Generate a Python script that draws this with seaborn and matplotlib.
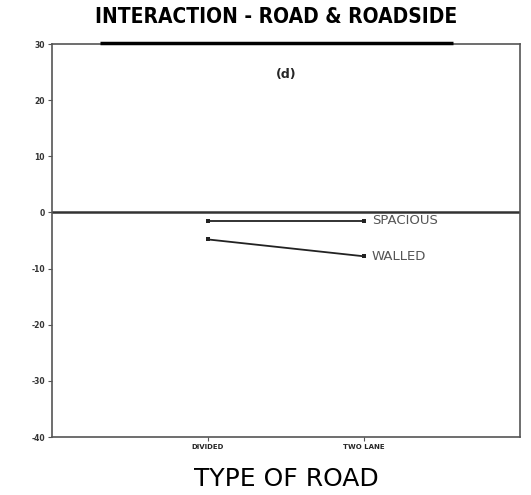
import seaborn as sns
import matplotlib.pyplot as plt
from matplotlib.lines import Line2D
import pandas as pd

road_types = ["DIVIDED", "TWO LANE"]
spacious = [-1.5, -1.5]
walled = [-4.8, -7.8]
y_ticks = [-40, -30, -20, -10, 0, 10, 20, 30]

df = pd.DataFrame({
    "road": road_types * 2,
    "value": spacious + walled,
    "roadside": ["SPACIOUS"] * 2 + ["WALLED"] * 2,
})

sns.set_style("ticks")
plt.rcParams['font.family'] = ['DejaVu Sans']

fig = plt.figure(figsize=(5.31, 4.95), dpi=100)
ax = fig.add_axes([0.098, 0.117, 0.881, 0.794])

sns.lineplot(data=df, x="road", y="value", hue="roadside",
             palette={"SPACIOUS": "#222222", "WALLED": "#222222"},
             marker="s", markersize=3.5, markeredgewidth=0, linewidth=1.3,
             legend=False, ax=ax)

ax.axhline(0, color="#333333", linewidth=1.8)
ax.set_xlim(-1, 2)
ax.set_ylim(-40, 30)
ax.set_yticks(y_ticks)
ax.set_yticklabels([str(t) for t in y_ticks], fontsize=5.5, fontweight="bold", color="#333333")
ax.set_xticks([0, 1])
ax.set_xticklabels(road_types, fontsize=5, fontweight="bold")
ax.tick_params(axis="both", length=3, width=0.8, color="#555555", pad=2)

for side in ["left", "right", "top", "bottom"]:
    ax.spines[side].set_visible(True)
    ax.spines[side].set_color("#555555")
    ax.spines[side].set_linewidth(1.2)

# series labels at the right end of each line
ax.text(1.05, spacious[1], "SPACIOUS", fontsize=9.5, color="#555555", va="center")
ax.text(1.05, walled[1], "WALLED", fontsize=9.5, color="#555555", va="center")

ax.text(0.5, 24.5, "(d)", fontsize=9, fontweight="bold", ha="center", va="center")

ax.set_xlabel("TYPE OF ROAD", fontsize=18, labelpad=12, color="black")
ax.set_ylabel("")

fig.suptitle("INTERACTION - ROAD & ROADSIDE", fontsize=15, fontweight="bold",
             fontstretch="condensed", x=0.52, y=0.985, color="black")

# heavy rule under the title, over the top frame
fig.add_artist(Line2D([0.188, 0.853], [0.914, 0.914], color="black",
                      linewidth=2.5, solid_capstyle="butt"))

fig.savefig("out.png", dpi=100)
